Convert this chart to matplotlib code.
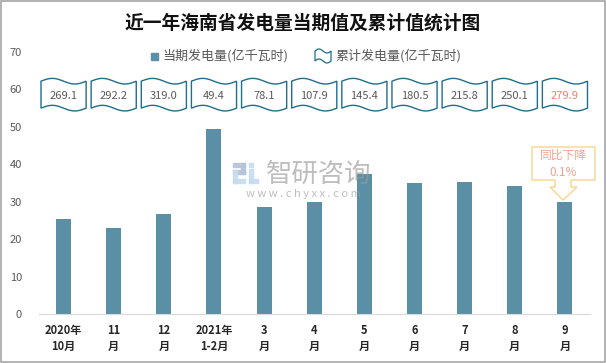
import matplotlib
matplotlib.use("Agg")
import matplotlib.pyplot as plt
import numpy as np
from matplotlib.patches import PathPatch, Rectangle, Polygon
from matplotlib.path import Path

plt.rcParams["font.family"] = ["Noto Sans CJK SC", "DejaVu Sans"]

# data
months = ["2020年\n10月", "11\n月", "12\n月", "2021年\n1-2月", "3\n月", "4\n月",
          "5\n月", "6\n月", "7\n月", "8\n月", "9\n月"]
current = [25.4, 23.1, 26.8, 49.4, 28.7, 29.8, 37.5, 35.1, 35.3, 34.3, 29.8]
cumulative = [269.1, 292.2, 319.0, 49.4, 78.1, 107.9, 145.4, 180.5, 215.8, 250.1, 279.9]
yoy_text = "同比下降\n0.1%"

W, H = 606, 363
BAR = "#5B8FA6"
WAVE = "#1F6E8C"
GRAY = "#595959"


def fx(px):
    return px / W


def fy(py):
    return 1 - py / H


fig = plt.figure(figsize=(W / 100, H / 100), dpi=100)
ax = fig.add_axes([fx(38.5), fy(314), (590 - 38.5) / W, (314 - 52) / H])

x = np.arange(len(months))
ax.bar(x, current, width=0.3, color=BAR, zorder=2)
ax.set_xlim(-0.5, len(months) - 0.5)
ax.set_ylim(0, 70)
ax.set_yticks(range(0, 71, 10))
ax.set_xticks(x)
ax.set_xticklabels(months, fontsize=8, fontweight="bold", color="#262626", linespacing=1.35)
ax.tick_params(axis="y", length=0, labelsize=8, labelcolor=GRAY, pad=12)
ax.tick_params(axis="x", length=0, pad=7)
for s in ["top", "right", "left"]:
    ax.spines[s].set_visible(False)
ax.spines["bottom"].set_color("#D9D9D9")


# wavy boxes with cumulative values
def wave_path(cx, w, y0, y1, amp):
    t = np.linspace(0, 1, 40)
    xs = cx - w / 2 + w * t
    top = y1 + amp * np.sin(2 * np.pi * t)
    bot = y0 + amp * np.sin(2 * np.pi * t)
    verts = list(zip(xs, top)) + list(zip(xs[::-1], bot[::-1])) + [(xs[0], top[0])]
    codes = [Path.MOVETO] + [Path.LINETO] * (len(verts) - 2) + [Path.CLOSEPOLY]
    return Path(verts, codes)


for i, v in enumerate(cumulative):
    p = wave_path(i, 0.9, 55.0, 62.2, 0.75)
    ax.add_patch(PathPatch(p, facecolor="white", edgecolor=WAVE, lw=1.0, clip_on=False, zorder=3))
    col = "#F0806A" if i == len(cumulative) - 1 else GRAY
    ax.text(i, 58.3, f"{v:.1f}", ha="center", va="center", fontsize=8, color=col, zorder=4)

# title
fig.text(0.5, fy(23), "近一年海南省发电量当期值及累计值统计图", ha="center", va="center",
         fontsize=13.5, fontweight="bold", color="#111111")

# legend
fig.patches.append(Rectangle((fx(151), fy(59.5)), fx(7), 7 / H, color=BAR, transform=fig.transFigure))
fig.text(fx(162), fy(56), "当期发电量(亿千瓦时)", ha="left", va="center", fontsize=9.4, color=GRAY)
t = np.linspace(0, 1, 20)
fxs = 315 + 16 * t
ftop = 51 - 2 * np.sin(2 * np.pi * t)
fbot = 61 - 2 * np.sin(2 * np.pi * t)
fverts = [(fx(a), fy(b)) for a, b in zip(fxs, ftop)] + [(fx(a), fy(b)) for a, b in zip(fxs[::-1], fbot[::-1])]
fig.patches.append(Polygon(fverts, closed=True, facecolor="white", edgecolor=WAVE, lw=0.9,
                           transform=fig.transFigure))
fig.text(fx(335), fy(56), "累计发电量(亿千瓦时)", ha="left", va="center", fontsize=9.4, color=GRAY)

# callout for last bar
cx = 563
call = [(532, 147), (595, 147), (595, 180), (571, 180), (571, 187), (577, 187), (cx, 200),
        (550, 187), (555, 187), (555, 180), (532, 180)]
fig.patches.append(Polygon([(fx(a), fy(b)) for a, b in call], closed=True, facecolor="white",
                           edgecolor="#F9D58A", lw=1.0, transform=fig.transFigure, zorder=5))
fig.text(fx(cx), fy(164), yoy_text, ha="center", va="center", fontsize=8.5, color="#F3A38F",
         linespacing=1.5, zorder=6)

# watermark
wm = dict(transform=fig.transFigure, zorder=10)
for (a, b, w, h, c) in [(233, 163, 12, 4, "#B7C3D8"), (241, 163, 4, 11, "#B7C3D8"),
                        (233, 170, 12, 4, "#B7C3D8"), (233, 170, 4, 13, "#C6DDF0"),
                        (233, 179, 12, 4, "#C6DDF0"), (249, 163, 4, 4, "#C6DDF0"),
                        (249, 169, 4, 14, "#C6DDF0"), (249, 179, 9, 4, "#C6DDF0")]:
    fig.patches.append(Rectangle((fx(a), fy(b + h)), fx(w), h / H, color=c, alpha=0.9, **wm))
fig.text(fx(319), fy(174), "智研咨询", ha="center", va="center", fontsize=19, color="#9A9A9A",
         alpha=0.65, zorder=10)
fig.text(fx(303), fy(194), "w w w . c h y x x . c o m", ha="center", va="center", fontsize=8,
         color="#9A9A9A", alpha=0.65, zorder=10)

# outer frame
fig.patches.append(Rectangle((0.001, 0.002), 0.997, 0.995, fill=False, edgecolor="#A6A6A6", lw=1.2,
                             transform=fig.transFigure))

fig.savefig("out.png", dpi=100)
